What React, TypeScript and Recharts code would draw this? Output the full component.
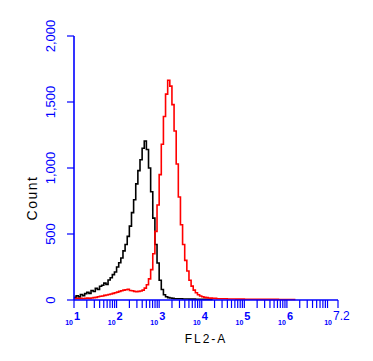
import { LineChart, Line, XAxis, YAxis } from "recharts";

// log10 fluorescence bins (FL2-A)
const BINS = [
  1.0, 1.05, 1.1, 1.15, 1.2, 1.25, 1.3, 1.35, 1.4, 1.45,
  1.5, 1.55, 1.6, 1.65, 1.7, 1.75, 1.8, 1.85, 1.9, 1.95,
  2.0, 2.05, 2.1, 2.15, 2.2, 2.25, 2.3, 2.35, 2.4, 2.45,
  2.5, 2.55, 2.6, 2.65, 2.7, 2.75, 2.8, 2.85, 2.9, 2.95,
  3.0, 3.05, 3.1, 3.15, 3.2, 3.25, 3.3, 3.35, 3.4, 3.45,
  3.5, 3.55, 3.6, 3.65, 3.7, 3.75, 3.8, 3.85, 3.9, 3.95,
  4.0, 4.05, 4.1, 4.15, 4.2, 4.25, 4.3, 4.35, 4.4, 4.45,
  4.5, 4.6, 4.7, 4.8, 4.9, 5.0, 5.1, 5.2, 5.3, 5.4,
  5.5, 5.6, 5.7, 5.8, 5.9, 6.0, 6.1, 6.2,
];

// control (black)
const CONTROL = [
  20, 32, 24, 42, 33, 48, 58, 50, 72, 64,
  88, 80, 104, 112, 128, 118, 152, 168, 192, 212,
  250, 282, 318, 372, 420, 482, 560, 662, 760, 880,
  980, 1062, 1150, 1205, 1140, 1000, 820, 620, 420, 280,
  150, 80, 40, 25, 18, 15, 12, 10, 10, 9,
  9, 8, 8, 8, 7, 7, 7, 6, 6, 6,
  6, 5, 5, 5, 5, 4, null, null, null, null,
  null, null, null, null, null, null, null, null, null, null,
  null, null, null, null, null, null, null, null,
];

// stained sample (red)
const SAMPLE = [
  10, 12, 10, 12, 10, 12, 14, 12, 15, 18,
  20, 25, 28, 30, 35, 38, 42, 45, 50, 55,
  60, 65, 70, 75, 78, 82, 72, 70, 65, 62,
  65, 68, 75, 90, 115, 160, 230, 350, 520, 720,
  950, 1180, 1390, 1560, 1665, 1620, 1480, 1280, 1030, 780,
  570, 420, 300, 220, 150, 105, 75, 55, 40, 30,
  25, 20, 18, 15, 14, 12, 12, 10, 10, 9,
  9, 8, 8, 7, 7, 6, 6, 6, 5, 5,
  5, 5, 5, 4, 4, 4, 4, 4,
];

const Y_TICKS = [0, 500, 1000, 1500, 2000];
const DECADES = [1, 2, 3, 4, 5, 6, 7.2];
const DECADE_LABELS = ["1", "2", "3", "4", "5", "6", "7.2"];
const MINOR_STEPS = [2, 3, 4, 5, 6, 7, 8, 9];

const BLUE = "#0000ff";
const FONT = "'Liberation Sans', Arial, sans-serif";

const data = BINS.map((bin, i) => ({ bin, control: CONTROL[i], sample: SAMPLE[i] }));

const X_TICKS = [
  ...DECADES,
  ...[1, 2, 3, 4, 5, 6]
    .flatMap((d) => MINOR_STEPS.map((m) => d + Math.log10(m)))
    .filter((v) => v < 7.2),
].sort((a, b) => a - b);

// eslint-disable-next-line @typescript-eslint/no-explicit-any
function XTick({ x, y, payload }: any) {
  const idx = DECADES.indexOf(payload.value);
  const shift = idx === DECADES.length - 1 ? -5 : 0;
  return (
    <g>
      <line x1={x} x2={x} y1={y} y2={y + 8} stroke={BLUE} strokeWidth={1.2} />
      {idx >= 0 && (
        <>
          <text
            x={x + shift - 1}
            y={y + 25}
            textAnchor="end"
            fill={BLUE}
            fontSize={7}
            fontWeight="bold"
            fontFamily={FONT}
          >
            10
          </text>
          <text
            x={x + shift}
            y={y + 20}
            textAnchor="start"
            fill={BLUE}
            fontSize={idx === DECADES.length - 1 ? 12 : 11}
            fontWeight={idx === DECADES.length - 1 ? "normal" : "bold"}
            fontFamily={FONT}
          >
            {DECADE_LABELS[idx]}
          </text>
        </>
      )}
    </g>
  );
}

// eslint-disable-next-line @typescript-eslint/no-explicit-any
function YTick({ x, y, payload }: any) {
  return (
    <g>
      <line x1={x - 7} x2={x} y1={y} y2={y} stroke={BLUE} strokeWidth={1.2} />
      <text
        x={x - 19}
        y={y}
        transform={`rotate(-90 ${x - 19} ${y})`}
        textAnchor="middle"
        fill={BLUE}
        fontSize={13}
        fontFamily={FONT}
      >
        {payload.value.toLocaleString("en-US")}
      </text>
    </g>
  );
}

export default function App() {
  return (
    <div style={{ position: "absolute", left: 0, top: 0, background: "#fff" }}>
      <LineChart
        width={373}
        height={361}
        data={data}
        margin={{ top: 36, right: 35, left: 30, bottom: 21 }}
      >
        <XAxis
          dataKey="bin"
          type="number"
          domain={[1, 7.2]}
          ticks={X_TICKS}
          interval={0}
          height={40}
          tickSize={0}
          tickMargin={0}
          tickLine={false}
          tick={<XTick />}
          axisLine={{ stroke: BLUE, strokeWidth: 1.6 }}
          label={{
            content: ({ viewBox }: any) => (
              <text
                x={viewBox.x + viewBox.width / 2}
                y={viewBox.y + 43}
                textAnchor="middle"
                fill="#000"
                fontSize={12}
                letterSpacing={2}
                fontFamily={FONT}
              >
                FL2-A
              </text>
            ),
          }}
        />
        <YAxis
          type="number"
          domain={[0, 2000]}
          ticks={Y_TICKS}
          interval={0}
          width={44}
          tickSize={0}
          tickMargin={0}
          tickLine={false}
          tick={<YTick />}
          axisLine={{ stroke: BLUE, strokeWidth: 1.6 }}
          label={{
            content: ({ viewBox }: any) => {
              const cx = viewBox.x + 7;
              const cy = viewBox.y + 162;
              return (
                <text
                  x={cx}
                  y={cy}
                  transform={`rotate(-90 ${cx} ${cy})`}
                  textAnchor="middle"
                  fill="#000"
                  fontSize={14}
                  letterSpacing={1.5}
                  fontFamily={FONT}
                >
                  Count
                </text>
              );
            },
          }}
        />
        <Line
          dataKey="control"
          type="stepAfter"
          stroke="#000"
          strokeWidth={1.6}
          dot={false}
          isAnimationActive={false}
        />
        <Line
          dataKey="sample"
          type="stepAfter"
          stroke="#ff0000"
          strokeWidth={1.6}
          dot={false}
          isAnimationActive={false}
        />
      </LineChart>
    </div>
  );
}
